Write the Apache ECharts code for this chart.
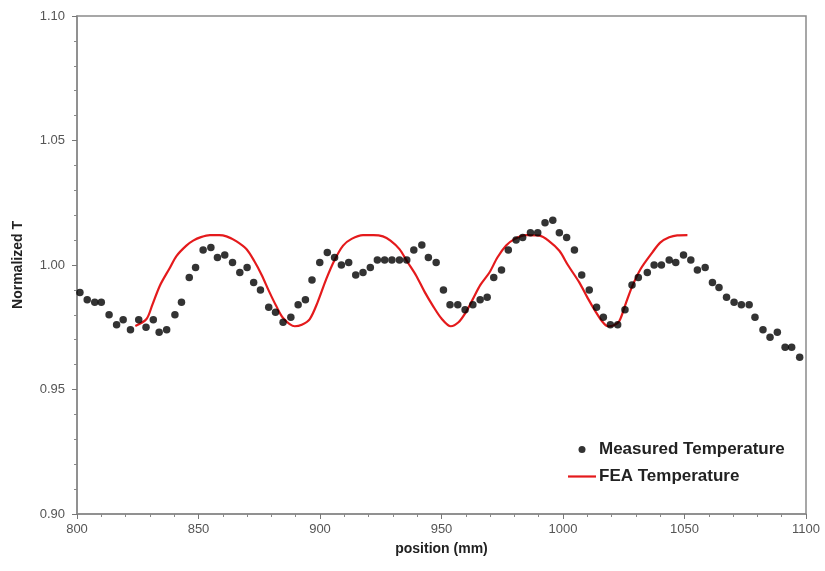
<!DOCTYPE html>
<html>
<head>
<meta charset="utf-8">
<script src="https://cdn.jsdelivr.net/npm/echarts@6/dist/echarts.min.js"></script>
<style>
  html, body { margin: 0; padding: 0; background: #fff; }
  #chart { width: 825px; height: 571px; }
</style>
</head>
<body>
<div id="chart"></div>
<script>
// Measured temperature along the specimen: position (mm) and normalized T
const measuredPos = [
  801.2, 804.2, 807.3, 810.0, 813.2, 816.3, 819.0, 822.0, 825.4, 828.4,
  831.4, 833.8, 836.9, 840.3, 843.0, 846.2, 848.8, 851.9, 855.1, 857.8,
  860.8, 864.0, 867.0, 870.0, 872.7, 875.5, 878.9, 881.7, 884.8, 888.0,
  891.0, 894.0, 896.7, 899.9, 903.0, 906.0, 908.8, 911.8, 914.7, 917.7,
  920.7, 923.6, 926.6, 929.6, 932.7, 935.7, 938.6, 941.9, 944.6, 947.8,
  950.8, 953.5, 956.7, 959.7, 962.9, 965.9, 968.8, 971.5, 974.7, 977.5,
  980.7, 983.4, 986.6, 989.6, 992.6, 995.8, 998.5, 1001.5, 1004.7, 1007.7,
  1010.8, 1013.8, 1016.6, 1019.5, 1022.5, 1025.5, 1028.4, 1031.0, 1034.7, 1037.5,
  1040.5, 1043.7, 1046.4, 1049.6, 1052.6, 1055.3, 1058.5, 1061.5, 1064.2, 1067.3,
  1070.4, 1073.4, 1076.6, 1079.0, 1082.3, 1085.2, 1088.2, 1091.4, 1094.1, 1097.4
];
const measuredT = [
  0.989, 0.986, 0.985, 0.985, 0.980, 0.976, 0.978, 0.974, 0.978, 0.975,
  0.978, 0.973, 0.974, 0.980, 0.985, 0.995, 0.999, 1.006, 1.007, 1.003,
  1.004, 1.001, 0.997, 0.999, 0.993, 0.990, 0.983, 0.981, 0.977, 0.979,
  0.984, 0.986, 0.994, 1.001, 1.005, 1.003, 1.000, 1.001, 0.996, 0.997,
  0.999, 1.002, 1.002, 1.002, 1.002, 1.002, 1.006, 1.008, 1.003, 1.001,
  0.990, 0.984, 0.984, 0.982, 0.984, 0.986, 0.987, 0.995, 0.998, 1.006,
  1.010, 1.011, 1.013, 1.013, 1.017, 1.018, 1.013, 1.011, 1.006, 0.996,
  0.990, 0.983, 0.979, 0.976, 0.976, 0.982, 0.992, 0.995, 0.997, 1.000,
  1.000, 1.002, 1.001, 1.004, 1.002, 0.998, 0.999, 0.993, 0.991, 0.987,
  0.985, 0.984, 0.984, 0.979, 0.974, 0.971, 0.973, 0.967, 0.967, 0.963
];

// FEA prediction along the same positions
const feaPos = [
  824.0, 828.6, 831.0, 834.1, 838.0, 841.0, 845.0, 847.8, 851.0, 854.7,
  858.5, 861.5, 865.5, 869.7, 873.0, 876.0, 879.0, 882.0, 885.0, 889.6,
  892.5, 895.8, 899.0, 902.6, 906.0, 909.5, 913.0, 917.7, 922.0, 925.9,
  929.0, 932.7, 936.0, 939.6, 943.0, 946.4, 950.0, 953.8, 957.0, 960.0,
  962.9, 966.0, 969.8, 973.0, 976.6, 980.0, 984.8, 990.3, 994.0, 998.5,
  1002.0, 1006.7, 1010.0, 1013.6, 1016.0, 1018.4, 1021.0, 1023.2, 1026.0, 1028.6,
  1032.0, 1036.8, 1040.0, 1043.7, 1047.0, 1051.2
];
const feaT = [
  0.9755, 0.9783, 0.9840, 0.9917, 0.9985, 1.0037, 1.0078, 1.0098, 1.0112, 1.0120,
  1.0120, 1.0115, 1.0096, 1.0064, 1.0015, 0.9960, 0.9895, 0.9835, 0.9785, 0.9754,
  0.9760, 0.9783, 0.9850, 0.9944, 1.0020, 1.0078, 1.0105, 1.0120, 1.0120, 1.0115,
  1.0098, 1.0064, 1.0012, 0.9957, 0.9893, 0.9837, 0.9785, 0.9754, 0.9770, 0.9810,
  0.9863, 0.9920, 0.9971, 1.0030, 1.0078, 1.0104, 1.0120, 1.0118, 1.0098, 1.0057,
  1.0000, 0.9930, 0.9870, 0.9810, 0.9775, 0.9754, 0.9758, 0.9775, 0.9850, 0.9917,
  0.9985, 1.0051, 1.0090, 1.0111, 1.0119, 1.0120
];

const xTicks = { min: 800, max: 1100, step: 50 };
const yTicks = { min: 0.90, max: 1.10, step: 0.05 };

const measured = measuredPos.map((x, i) => [x, measuredT[i]]);
const fea = feaPos.map((x, i) => [x, feaT[i]]);

const font = '"Liberation Sans", Arial, sans-serif';
const chart = echarts.init(document.getElementById('chart'), null, { renderer: 'canvas' });

const axisCommon = {
  axisLine: { show: true, lineStyle: { color: '#8a8a8a', width: 1.5 } },
  axisTick: { show: true, length: 5, lineStyle: { color: '#777' } },
  minorTick: { show: true, splitNumber: 5, length: 3, lineStyle: { color: '#888' } },
  splitLine: { show: false },
  axisLabel: { color: '#555', fontSize: 13, fontFamily: font },
  nameTextStyle: { color: '#222', fontSize: 14, fontWeight: 'bold', fontFamily: font }
};

chart.setOption({
  animation: false,
  backgroundColor: '#fff',
  grid: {
    left: 77, top: 16, right: 19, bottom: 57,
    show: true, borderColor: '#8a8a8a', borderWidth: 1.5, backgroundColor: 'transparent'
  },
  xAxis: Object.assign({}, axisCommon, {
    type: 'value',
    min: xTicks.min, max: xTicks.max, interval: xTicks.step,
    name: 'position (mm)', nameLocation: 'middle', nameGap: 28,
    axisLabel: Object.assign({}, axisCommon.axisLabel, { margin: 9, formatter: v => String(v) })
  }),
  yAxis: Object.assign({}, axisCommon, {
    type: 'value',
    min: yTicks.min, max: yTicks.max, interval: yTicks.step,
    name: 'Normalized T', nameLocation: 'middle', nameGap: 52,
    axisLabel: Object.assign({}, axisCommon.axisLabel, {
      margin: 12,
      formatter: v => v.toFixed(2)
    })
  }),
  legend: {
    orient: 'vertical',
    left: 563, top: 435,
    padding: 5,
    itemWidth: 28, itemHeight: 7, itemGap: 8,
    textStyle: { color: '#222', fontSize: 17, fontWeight: 'bold', fontFamily: font, lineHeight: 19, padding: [0, 0, 0, -2] },
    data: [
      { name: 'Measured Temperature', icon: 'circle' },
      { name: 'FEA Temperature', icon: 'path://M0,0L28,0L28,2.2L0,2.2Z' }
    ]
  },
  series: [
    {
      name: 'Measured Temperature',
      type: 'scatter',
      data: measured,
      symbol: 'circle',
      symbolSize: 7.5,
      itemStyle: { color: '#000' },
      z: 3
    },
    {
      name: 'FEA Temperature',
      type: 'line',
      data: fea,
      symbol: 'none',
      smooth: 0.3,
      lineStyle: { color: '#e41a1c', width: 2.2 },
      itemStyle: { color: '#e41a1c' },
      z: 2
    }
  ]
});
</script>
</body>
</html>
